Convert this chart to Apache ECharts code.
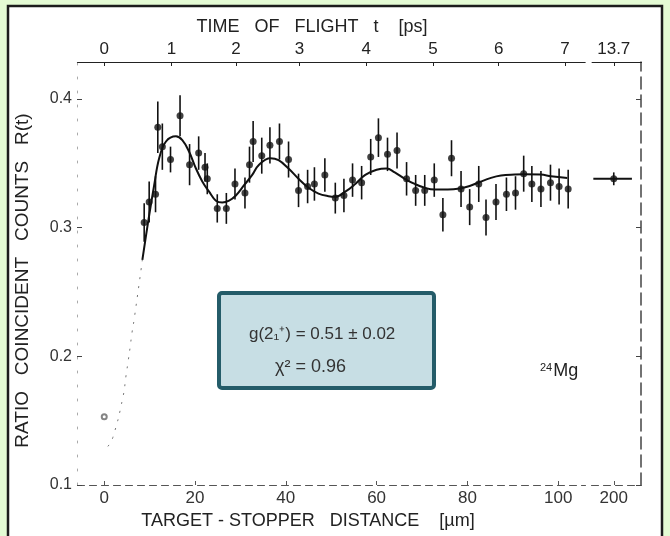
<!DOCTYPE html>
<html>
<head>
<meta charset="utf-8">
<script src="https://cdn.jsdelivr.net/npm/echarts@6/dist/echarts.min.js"></script>
<style>
    html, body { margin: 0; padding: 0; background: #e4fbd4; }
    #chart { width: 670px; height: 536px; }
</style>
</head>
<body>
<div id="chart"></div>
<script>
// measured points: target-stopper distance [um], ratio R(t), error
const distance = [8.8, 9.9, 11.3, 11.8, 12.8, 14.6, 16.7, 18.8, 20.8, 22.2,
    22.7, 24.9, 26.9, 28.8, 31.0, 32.0, 32.8, 34.7, 36.5, 38.6,
    40.6, 42.8, 44.8, 46.3, 48.6, 50.9, 52.8, 54.7, 56.7, 58.7,
    60.4, 62.4, 64.5, 66.6, 68.6, 70.6, 72.7, 74.6, 76.5, 78.6,
    80.5, 82.5, 84.1, 86.3, 88.6, 90.6, 92.4, 94.2, 96.2, 98.3,
    100.2, 102.2, 200]
const ratio = [0.304, 0.320, 0.326, 0.378, 0.363, 0.353, 0.387, 0.349, 0.358, 0.347,
    0.338, 0.315, 0.315, 0.334, 0.327, 0.349, 0.367, 0.356, 0.364, 0.367,
    0.353, 0.329, 0.332, 0.334, 0.341, 0.323, 0.325, 0.337, 0.335, 0.355,
    0.370, 0.357, 0.360, 0.338, 0.329, 0.329, 0.337, 0.310, 0.354, 0.330,
    0.316, 0.334, 0.308, 0.320, 0.326, 0.327, 0.342, 0.334, 0.330, 0.335,
    0.332, 0.330, 0.338]
const ratioErr = [0.015, 0.016, 0.014, 0.020, 0.018, 0.010, 0.016, 0.016, 0.013, 0.011,
    0.012, 0.011, 0.012, 0.012, 0.012, 0.014, 0.016, 0.014, 0.014, 0.014,
    0.014, 0.013, 0.013, 0.013, 0.013, 0.012, 0.013, 0.013, 0.013, 0.014,
    0.015, 0.013, 0.014, 0.013, 0.012, 0.012, 0.013, 0.013, 0.014, 0.014,
    0.014, 0.014, 0.014, 0.014, 0.013, 0.013, 0.014, 0.014, 0.014, 0.014,
    0.014, 0.015, 0.005]

// point near zero distance
const originDistance = [0]
const originRatio = [0.153]

// fitted curve
const fitLowDistance = [0.8, 1.9, 4.1, 4.8, 5.3, 5.7, 6.1, 6.6, 8.4]
const fitLowRatio = [0.130, 0.137, 0.168, 0.185, 0.197, 0.207, 0.218, 0.229, 0.275]
const fitDistance = [8.4, 9.6, 11.0, 12.1, 13.6, 15.8, 17.2, 18.7, 20.2, 21.6,
    23.1, 24.6, 26.0, 27.5, 29.0, 30.8, 32.6, 34.1, 36.6, 38.4,
    40.6, 42.8, 45.0, 47.2, 49.4, 50.9, 53.1, 55.3, 57.5, 60.0,
    62.2, 64.0, 66.2, 68.4, 70.6, 72.8, 75.7, 78.3, 80.5, 82.7,
    85.2, 87.4, 90.4, 92.5, 96.2, 98.4, 102.0]
const fitRatio = [0.275, 0.303, 0.333, 0.354, 0.367, 0.371, 0.368, 0.359, 0.346, 0.336,
    0.328, 0.321, 0.3195, 0.321, 0.325, 0.333, 0.341, 0.349, 0.354, 0.3525,
    0.346, 0.338, 0.331, 0.3265, 0.3245, 0.324, 0.328, 0.334, 0.341, 0.345,
    0.346, 0.343, 0.338, 0.334, 0.331, 0.3296, 0.3296, 0.3304, 0.3324, 0.3355,
    0.3387, 0.3405, 0.3413, 0.3415, 0.3413, 0.340, 0.3387]
const fitTailDistance = [195.5, 204]
const fitTailRatio = [0.338, 0.338]

// axis ticks
const distanceTicks = [0, 20, 40, 60, 80, 100, 200]
const flightTickPos = [0, 14.8, 29.0, 43.0, 57.7, 72.4, 86.9, 101.5, 200]
const flightTimes = ["0", "1", "2", "3", "4", "5", "6", "7", "13.7"]
const ratioTicks = [0.1, 0.2, 0.3, 0.4]

const zip = (a, b) => a.map((v, i) => [v, b[i]])
const font = "Liberation Sans"
const axisBreaks = [{ start: 106, end: 195, gap: "1%" }]

var myChart = echarts.init(document.getElementById("chart"))
myChart.setOption({
    backgroundColor: "#e4fbd4",
    animation: false,
    textStyle: { fontFamily: font },
    grid: { left: 77, right: 29, top: 62, bottom: 51 },
    graphic: [
        {
            type: "rect", z: -10, silent: true,
            shape: { x: 8, y: 6, width: 654, height: 540 },
            style: { fill: "#ffffff", stroke: "#1c1c1c", lineWidth: 2.5 },
        },
        {
            type: "rect", z: 50,
            shape: { x: 219, y: 293, width: 215, height: 95, r: 3 },
            style: { fill: "#c7dee4", stroke: "#245c69", lineWidth: 4 },
        },
        {
            type: "text", z: 51, left: 249, top: 326,
            style: { text: "g(2\u2081\u207A) = 0.51 \u00B1 0.02", font: "17px " + font, fill: "#333" },
        },
        {
            type: "text", z: 51, left: 275, top: 358,
            style: { text: "\u03C7\u00B2 = 0.96", font: "18px " + font, fill: "#333" },
        },
        {
            type: "text", z: 51, left: 540, top: 362,
            style: {
                text: "{s|24}{m|Mg}",
                rich: {
                    s: { fontSize: 11, fontFamily: font, fill: "#222", verticalAlign: "top", padding: [0, 1, 8, 0] },
                    m: { fontSize: 18, fontFamily: font, fill: "#222" },
                },
            },
        },
    ],
    xAxis: [
        {
            type: "value",
            min: -6,
            max: 206,
            breaks: axisBreaks,
            breakArea: { show: true, itemStyle: { color: "#fff", borderColor: "transparent", opacity: 1 }, zigzagAmplitude: 2 },
            name: "TARGET - STOPPER   DISTANCE    [\u00B5m]",
            nameLocation: "middle",
            nameGap: 19,
            nameTextStyle: { fontSize: 18, color: "#222", padding: [0, 102, 0, 0] },
            axisLine: { onZero: false, lineStyle: { color: "#555", type: [7, 5] } },
            axisTick: { inside: true, length: 4, customValues: distanceTicks, lineStyle: { color: "#555" } },
            axisLabel: { customValues: distanceTicks, fontSize: 17, color: "#333", margin: 5 },
            splitLine: { show: false },
        },
        {
            type: "value",
            position: "top",
            min: -6,
            max: 206,
            breaks: axisBreaks,
            breakArea: { show: false },
            name: "TIME   OF   FLIGHT   t    [ps]",
            nameLocation: "middle",
            nameGap: 24,
            nameTextStyle: { fontSize: 18, color: "#222", padding: [0, 94, 0, 0] },
            axisLine: { onZero: false, lineStyle: { color: "#222", width: 1.2 } },
            axisTick: { inside: true, length: 4, customValues: flightTickPos, lineStyle: { color: "#222" } },
            axisLabel: {
                customValues: flightTickPos,
                fontSize: 17,
                color: "#222",
                margin: 4,
                formatter: (v) => {
                    const i = flightTickPos.findIndex((p) => Math.abs(p - v) < 0.01)
                    return i < 0 ? "" : flightTimes[i]
                },
            },
            splitLine: { show: false },
        },
    ],
    yAxis: [
        {
            type: "value",
            min: 0.1,
            max: 0.4288,
            name: "RATIO   COINCIDENT   COUNTS   R(t)",
            nameLocation: "middle",
            nameGap: 45,
            nameRotate: 90,
            nameTextStyle: { fontSize: 19, color: "#222", padding: [0, 14, 0, 0] },
            axisLine: { show: true, onZero: false, lineStyle: { color: "#aaa", type: [2, 12] } },
            axisTick: { show: true, inside: true, length: 5, customValues: ratioTicks, lineStyle: { color: "#444" } },
            axisLabel: { customValues: ratioTicks, formatter: (v) => v.toFixed(1), fontSize: 16, color: "#333", margin: 5 },
            splitLine: { show: false },
        },
        {
            type: "value",
            position: "right",
            min: 0.1,
            max: 0.4288,
            axisLine: { show: true, onZero: false, lineStyle: { color: "#444", width: 1.5, type: [12, 6] } },
            axisTick: { show: true, inside: true, length: 5, customValues: ratioTicks, lineStyle: { color: "#444" } },
            axisLabel: { show: false },
            splitLine: { show: false },
        },
    ],
    series: [
        {
            name: "fit (low)",
            type: "line",
            data: zip(fitLowDistance, fitLowRatio),
            smooth: true,
            symbol: "none",
            lineStyle: { color: "#777", width: 1, type: [2, 7] },
        },
        {
            name: "fit",
            type: "line",
            data: zip(fitDistance, fitRatio),
            smooth: 0.4,
            symbol: "none",
            lineStyle: { color: "#111", width: 2 },
        },
        {
            name: "fit (tail)",
            type: "line",
            data: zip(fitTailDistance, fitTailRatio),
            symbol: "none",
            lineStyle: { color: "#111", width: 2 },
            markPoint: {
                symbol: "none",
                label: { show: true, formatter: "//", fontSize: 13, color: "#222", offset: [-5, 0] },
                data: [{ coord: [fitTailDistance[0], fitTailRatio[0]] }],
            },
        },
        {
            name: "errors",
            type: "custom",
            data: distance.map((d, i) => [d, ratio[i] - ratioErr[i], ratio[i] + ratioErr[i]]),
            encode: { x: 0, y: [1, 2] },
            renderItem: function (params, api) {
                var p1 = api.coord([api.value(0), api.value(1)])
                var p2 = api.coord([api.value(0), api.value(2)])
                return {
                    type: "line",
                    shape: { x1: p1[0], y1: p1[1], x2: p2[0], y2: p2[1] },
                    style: { stroke: "#111", lineWidth: 1.6 },
                }
            },
            z: 3,
        },
        {
            name: "R(t)",
            type: "scatter",
            data: zip(distance, ratio),
            symbol: "circle",
            symbolSize: 7,
            itemStyle: { color: "#111" },
            z: 4,
        },
        {
            name: "origin",
            type: "scatter",
            data: zip(originDistance, originRatio),
            symbol: "emptyCircle",
            symbolSize: 5,
            itemStyle: { color: "#666", borderWidth: 1 },
        },
    ],
})
</script>
</body>
</html>
